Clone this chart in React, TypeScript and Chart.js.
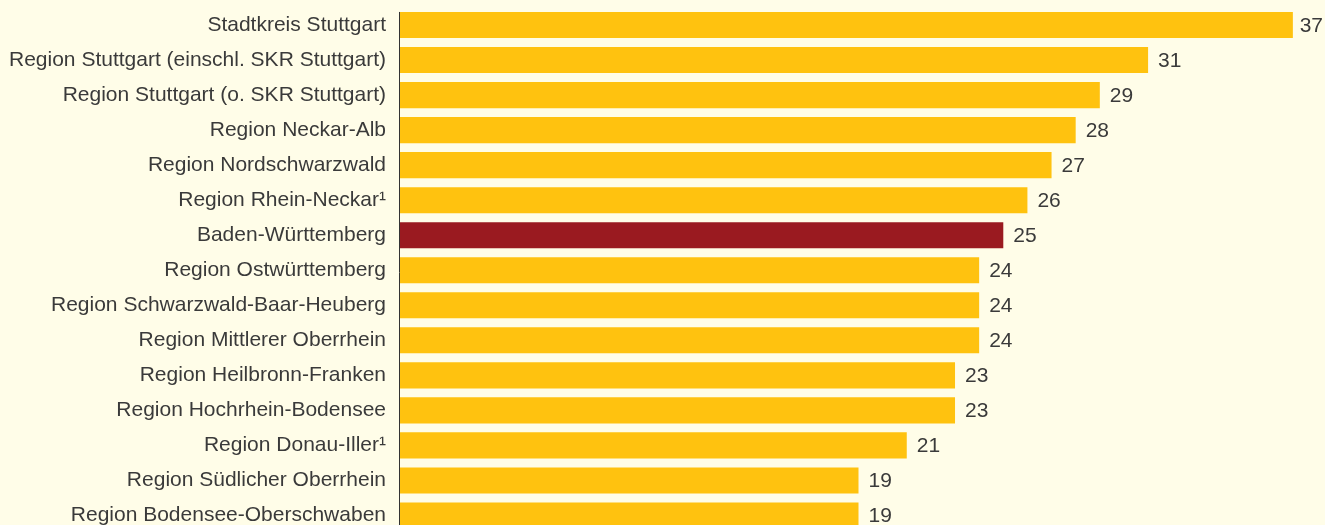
import React, { useEffect, useRef } from "react";
import { Chart, registerables } from "chart.js";

Chart.register(...registerables);

const categories: string[] = [
  "Stadtkreis Stuttgart",
  "Region Stuttgart (einschl. SKR Stuttgart)",
  "Region Stuttgart (o. SKR Stuttgart)",
  "Region Neckar-Alb",
  "Region Nordschwarzwald",
  "Region Rhein-Neckar¹",
  "Baden-Württemberg",
  "Region Ostwürttemberg",
  "Region Schwarzwald-Baar-Heuberg",
  "Region Mittlerer Oberrhein",
  "Region Heilbronn-Franken",
  "Region Hochrhein-Bodensee",
  "Region Donau-Iller¹",
  "Region Südlicher Oberrhein",
  "Region Bodensee-Oberschwaben",
];

const values: number[] = [37, 31, 29, 28, 27, 26, 25, 24, 24, 24, 23, 23, 21, 19, 19];

const highlight = "Baden-Württemberg";

const GOLD = "#FFC20F";
const RED = "#9A1A20";
const BG = "#FFFDE8";
const TEXT = "#3A3A3A";
const FONT = "'Liberation Sans', Arial, sans-serif";
const FONT_SIZE = 21;

const valueLabels = {
  id: "valueLabels",
  afterDatasetsDraw(chart: any) {
    const ctx = chart.ctx;
    const meta = chart.getDatasetMeta(0);
    const data = chart.data.datasets[0].data as number[];
    ctx.save();
    ctx.font = `${FONT_SIZE}px ${FONT}`;
    ctx.fillStyle = TEXT;
    ctx.textAlign = "left";
    ctx.textBaseline = "middle";
    meta.data.forEach((bar: any, i: number) => {
      const t = String(data[i]);
      const w = ctx.measureText(t).width;
      const x = Math.min(bar.x + 10, chart.width - w - 2);
      ctx.fillText(t, x, bar.y + 1);
    });
    ctx.restore();
  },
};

const axisLine = {
  id: "axisLine",
  afterDatasetsDraw(chart: any) {
    const ctx = chart.ctx;
    const meta = chart.getDatasetMeta(0);
    const first = meta.data[0];
    const top = first.y - first.height / 2;
    const x = chart.chartArea.left;
    ctx.save();
    ctx.strokeStyle = "#333333";
    ctx.lineWidth = 1;
    ctx.beginPath();
    ctx.moveTo(x - 0.5, top);
    ctx.lineTo(x - 0.5, chart.chartArea.bottom);
    ctx.stroke();
    ctx.restore();
  },
};

export default function App() {
  const ref = useRef<HTMLCanvasElement | null>(null);

  useEffect(() => {
    if (!ref.current) return;
    const chart = new Chart(ref.current, {
      type: "bar",
      data: {
        labels: categories,
        datasets: [
          {
            data: values,
            backgroundColor: categories.map((c) => (c === highlight ? RED : GOLD)),
            borderWidth: 0,
            categoryPercentage: 1,
            barPercentage: 0.745,
          },
        ],
      },
      options: {
        indexAxis: "y",
        animation: false,
        responsive: false,
        layout: { padding: { top: 7.5, right: 8, left: 0, bottom: 0 } },
        plugins: {
          legend: { display: false },
          tooltip: { enabled: false },
        },
        scales: {
          x: {
            min: 0,
            max: 38,
            display: false,
            grid: { display: false },
          },
          y: {
            grid: {
              display: true,
              drawOnChartArea: false,
              drawTicks: true,
              tickLength: 14,
              color: "rgba(0,0,0,0)",
            },
            border: { display: false },
            ticks: {
              color: TEXT,
              font: { family: FONT, size: FONT_SIZE },
              padding: 0,
            },
            afterFit: (s: any) => {
              s.width = 400;
              s.paddingTop = 0;
              s.paddingBottom = 0;
            },
          },
        },
      },
      plugins: [valueLabels, axisLine],
    });
    return () => chart.destroy();
  }, []);

  return (
    <div
      style={{
        position: "fixed",
        left: 0,
        top: 0,
        width: 1325,
        height: 533,
        background: BG,
        overflow: "hidden",
      }}
    >
      <canvas ref={ref} width={1325} height={533} style={{ display: "block" }} />
    </div>
  );
}
